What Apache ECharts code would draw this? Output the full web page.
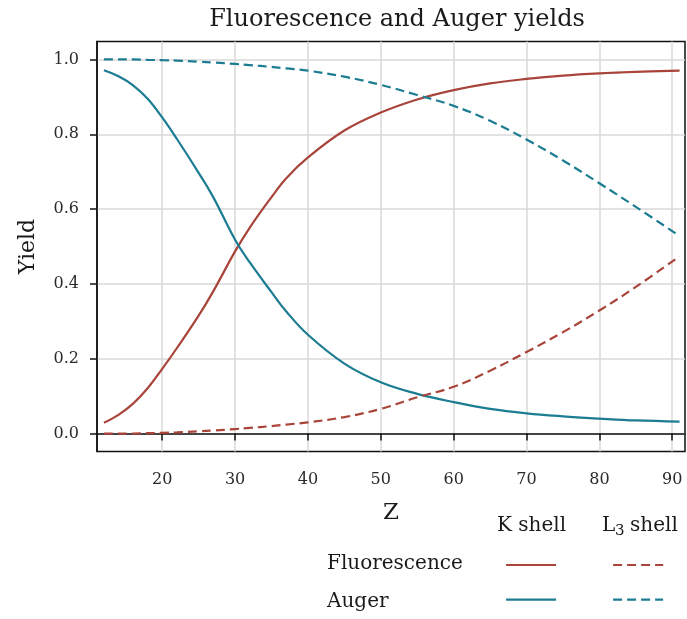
<!DOCTYPE html>
<html>
<head>
<meta charset="utf-8">
<title>Fluorescence and Auger yields</title>
<script src="https://cdn.jsdelivr.net/npm/echarts@6/dist/echarts.min.js"></script>
<style>
  html, body { margin: 0; padding: 0; background: #ffffff; }
  #chart { width: 687px; height: 619px; }
</style>
</head>
<body>
<div id="chart"></div>
<script>
// Atomic number Z
const atomicNumber = [12, 14, 16, 18, 20, 22, 25, 27, 30, 32, 35, 37, 40, 45, 50, 55, 60, 65, 70, 75, 80, 85, 91];

// K shell yields
const kFluorescence = [0.029, 0.050, 0.080, 0.121, 0.173, 0.228, 0.315, 0.380, 0.487, 0.550, 0.632, 0.682, 0.738, 0.810, 0.858, 0.893, 0.918, 0.936, 0.948, 0.957, 0.963, 0.967, 0.970];
const kAuger = [0.971, 0.955, 0.931, 0.895, 0.845, 0.788, 0.697, 0.632, 0.518, 0.458, 0.378, 0.327, 0.264, 0.187, 0.137, 0.106, 0.084, 0.066, 0.054, 0.046, 0.040, 0.035, 0.032];

// L3 shell yields
const l3Fluorescence = [0.000, 0.000, 0.000, 0.001, 0.002, 0.003, 0.006, 0.008, 0.012, 0.015, 0.020, 0.024, 0.030, 0.044, 0.066, 0.097, 0.125, 0.168, 0.218, 0.271, 0.329, 0.392, 0.474];
const l3Auger = [1.000, 1.000, 1.000, 0.999, 0.998, 0.997, 0.994, 0.992, 0.988, 0.985, 0.980, 0.976, 0.970, 0.954, 0.932, 0.905, 0.876, 0.836, 0.786, 0.730, 0.669, 0.606, 0.528];

// Axis ticks
const zTicks = [20, 30, 40, 50, 60, 70, 80, 90];
const yieldTicks = [0.0, 0.2, 0.4, 0.6, 0.8, 1.0];

const RED = '#a9443b';
const TEAL = '#1b7c92';
const INK = '#1a1a1a';
const SERIF = '"DejaVu Serif", "Liberation Serif", serif';
const DASH = [9, 5];

const pairs = ys => atomicNumber.map((z, i) => [z, ys[i]]);

function lineSeries(name, ys, color, dashed) {
  return {
    name: name,
    type: 'line',
    data: pairs(ys),
    smooth: 0.4,
    symbol: 'none',
    lineStyle: { color: color, width: 2.2, type: dashed ? DASH : 'solid' },
    itemStyle: { color: color },
    emphasis: { disabled: true },
    z: 3
  };
}

const chart = echarts.init(document.getElementById('chart'), null, { renderer: 'canvas' });

// Two legend columns (K shell, L3 shell), one row per yield type
const legendCommon = {
  orient: 'vertical',
  padding: 0,
  itemWidth: 50,
  itemHeight: 14,
  itemGap: 22,
  formatter: () => '',
  selectedMode: false,
  textStyle: { fontSize: 1 },
  itemStyle: { opacity: 0 },
  lineStyle: { width: 2.2 }
};

const label = (text, left, top, size) => ({
  type: 'text', left: left, top: top,
  style: { text: text, font: size + 'px ' + SERIF, fill: INK }
});

const option = {
  animation: false,
  backgroundColor: '#ffffff',
  title: {
    text: 'Fluorescence and Auger yields',
    left: 392,
    textAlign: 'center',
    top: 3,
    textStyle: { fontFamily: SERIF, fontSize: 24, fontWeight: 'normal', color: INK }
  },
  grid: {
    left: 97, right: 2, top: 41.5, bottom: 167.5,
    show: true,
    borderColor: '#111111',
    borderWidth: 1.5,
    backgroundColor: 'transparent'
  },
  legend: [
    Object.assign({ left: 505, top: 558, data: ['K Fluorescence', 'K Auger'] }, legendCommon),
    Object.assign({ left: 612, top: 558, data: ['L3 Fluorescence', 'L3 Auger'] }, legendCommon)
  ],
  xAxis: {
    type: 'value',
    min: 11.05,
    max: 91.75,
    name: 'Z',
    nameLocation: 'middle',
    nameGap: 50,
    nameTextStyle: { fontFamily: SERIF, fontSize: 23, color: INK },
    axisLine: { show: true, lineStyle: { color: '#111111', width: 1.5 } },
    axisTick: { show: true, customValues: zTicks, length: 7, lineStyle: { color: '#111111', width: 1.5 } },
    axisLabel: { customValues: zTicks, fontFamily: SERIF, fontSize: 16, color: '#2a2a2a', margin: 20 },
    splitLine: { show: true, lineStyle: { color: '#d8d8d8', width: 1.5 } }
  },
  yAxis: {
    type: 'value',
    min: -0.048,
    max: 1.048,
    name: 'Yield',
    nameLocation: 'middle',
    nameGap: 58,
    nameTextStyle: { fontFamily: SERIF, fontSize: 22, color: INK },
    axisLine: { show: true, lineStyle: { color: '#111111', width: 1.5 } },
    axisTick: { show: true, customValues: yieldTicks, length: 7, lineStyle: { color: '#111111', width: 1.5 } },
    axisLabel: {
      customValues: yieldTicks,
      fontFamily: SERIF, fontSize: 16, color: '#2a2a2a', margin: 18,
      formatter: v => v.toFixed(1)
    },
    splitLine: { show: true, lineStyle: { color: '#d8d8d8', width: 1.5 } }
  },
  series: [
    lineSeries('K Fluorescence', kFluorescence, RED, false),
    lineSeries('K Auger', kAuger, TEAL, false),
    lineSeries('L3 Fluorescence', l3Fluorescence, RED, true),
    lineSeries('L3 Auger', l3Auger, TEAL, true)
  ],
  graphic: [
    label('K shell', 497, 516, 20),
    label('L', 602, 516, 20),
    label('3', 615, 524, 15),
    label('shell', 630, 516, 20),
    label('Fluorescence', 327, 554, 20),
    label('Auger', 327, 592, 20)
  ]
};

chart.setOption(option);
</script>
</body>
</html>
